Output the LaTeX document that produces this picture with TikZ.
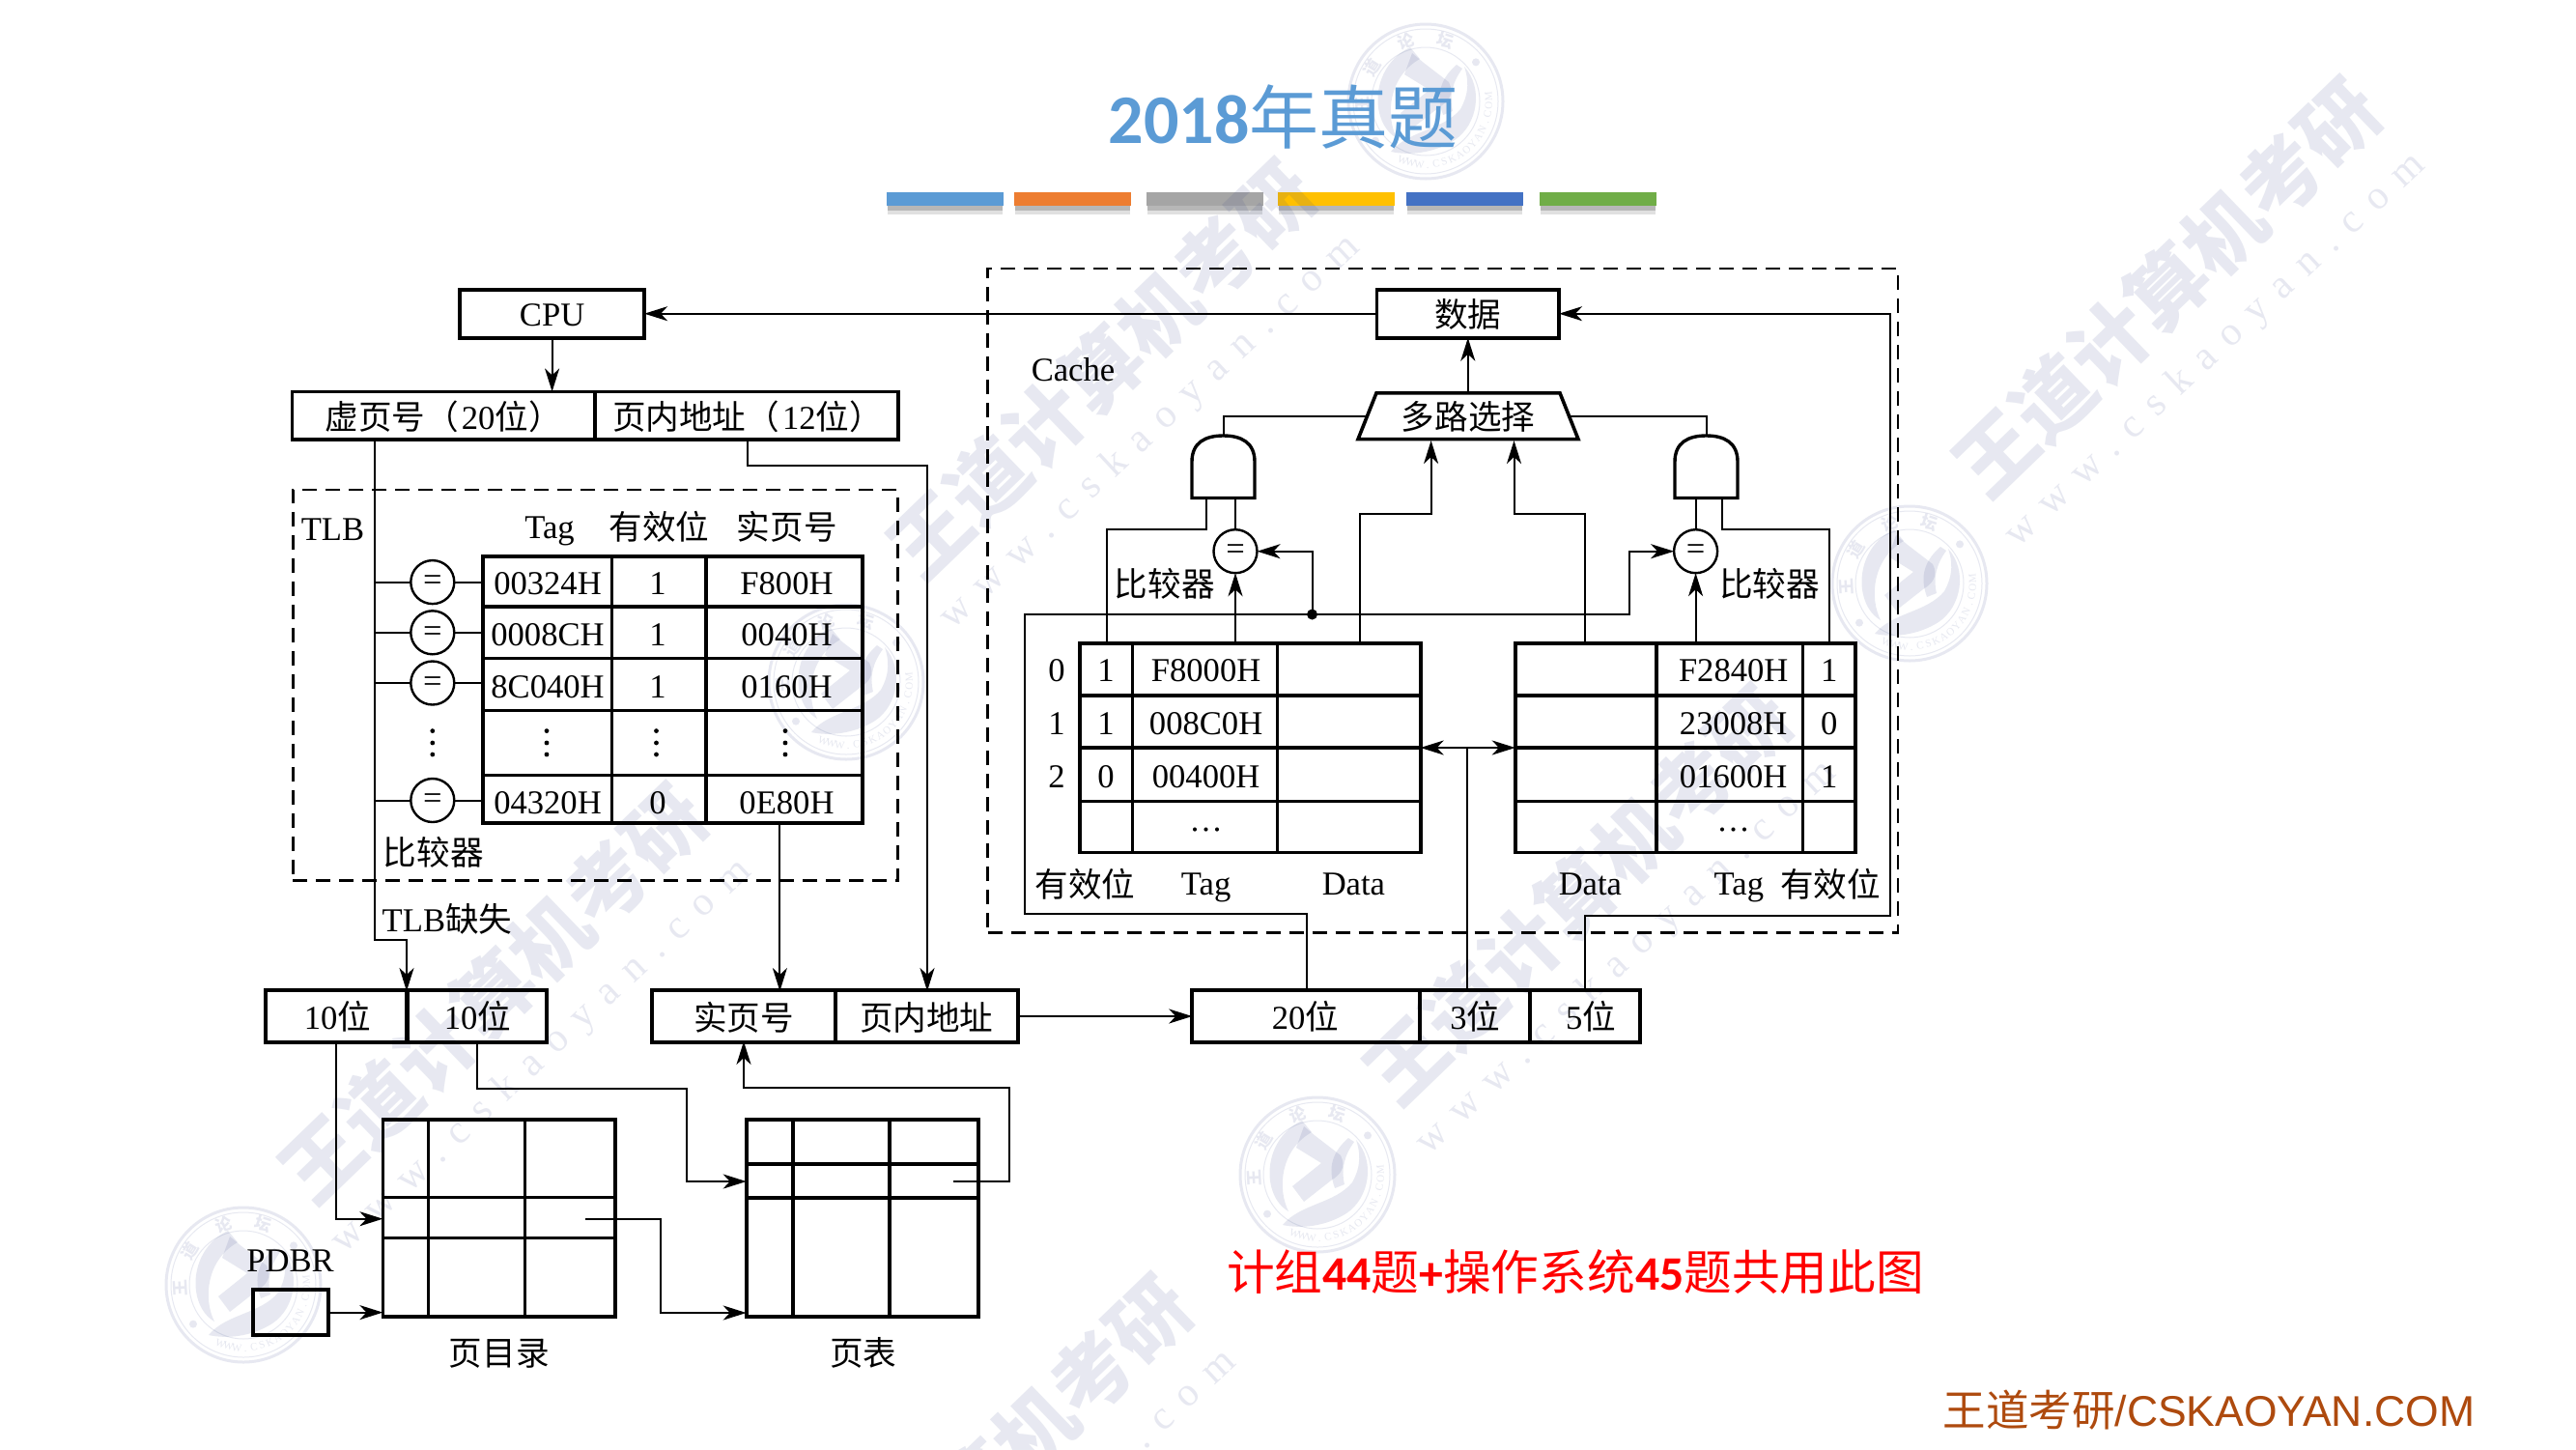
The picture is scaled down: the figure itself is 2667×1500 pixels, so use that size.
\documentclass[tikz,border=0pt]{standalone}
\usepackage{fontspec}
\usetikzlibrary{arrows.meta,shapes.geometric,calc}
\setmainfont{Liberation Serif}
\newfontfamily\cjk{Noto Sans CJK SC}
\newfontfamily\cali{Carlito}
\newfontfamily\arialf{Liberation Sans}
\newfontfamily\wmfont[LetterSpace=38]{Liberation Serif}
\newcommand{\zh}[1]{{\cjk #1}}
\definecolor{wmink}{HTML}{3B4A8C}
\definecolor{titleblue}{HTML}{5B9BD5}
\definecolor{brandbrown}{HTML}{AE4A0E}
\tikzset{
  x=1pt,y=-1pt,
  every node/.style={font=\fontsize{34.6}{36}\selectfont,inner sep=0pt,outer sep=0pt,text height=25.5pt,text depth=0pt},
  zt/.style={text height=28pt},
  zm/.style={text height=26.5pt},
  box/.style={draw=black,line width=3.8pt,rectangle,inner sep=0pt,outer sep=0pt},
  gridline/.style={line width=3.4pt},
  wire/.style={line width=2pt},
  arrowwire/.style={line width=2pt,-{Stealth[length=24pt,width=15pt,inset=7pt]}},
  dblwire/.style={line width=2pt,{Stealth[length=24pt,width=15pt,inset=7pt]}-{Stealth[length=24pt,width=15pt,inset=7pt]}},
  dashbox/.style={line width=2.4pt,dash pattern=on 15pt off 9pt},
  cmp/.style={draw=black,line width=2.4pt,circle,minimum size=45pt,fill=white,text height=18.4pt},
  gatebody/.style={draw=black,line width=3.4pt,fill=white},
  wmtext/.style={font=\fontsize{82}{86}\selectfont\cjk\bfseries,rotate=44,text height=62pt},
  wmurl/.style={font=\fontsize{42}{44}\selectfont\wmfont,rotate=43,text height=20pt},
}
\newcommand{\wdmark}[2]{%
  \node[wmtext] (wm#1#2a) at (#1,#2) {王道计算机考研};
  \node[wmurl] (wm#1#2b) at ($(#1,#2)+(51,65)$) {www.cskaoyan.com};
}
\newcommand{\wdstamp}[2]{%
  \begin{scope}[shift={(#1,#2)},x=1pt,y=1pt]
    \draw[line width=3pt] (0,0) circle (80);
    \draw[line width=1pt] (0,0) circle (75);
    \draw[line width=1pt] (0,0) circle (56);
    \foreach \ch/\ang in {王/183,道/148,论/108,坛/72}
      \node[font=\fontsize{17}{18}\selectfont\cjk\bfseries,rotate=\ang-90,text height=13pt] at (\ang:66) {\ch};
    \fill (38:66) circle (4);
    \fill (218:66) circle (4);
    \foreach \ch [count=\i] in {W,W,W,.,C,S,K,A,O,Y,A,N,.,C,O,M}
      \node[font=\fontsize{11}{12}\selectfont,rotate=-119+7.7*\i+90,text height=8pt] at (-119+7.7*\i:65) {\ch};
    % left crescent
    \fill (-16,56) .. controls (-58,36) and (-58,-22) .. (-30,-38) .. controls (-42,-14) and (-38,26) .. (-6,44) -- cycle;
    % bottom bowl
    \fill (-36,-52) .. controls (-18,-30) and (18,-30) .. (36,-8) .. controls (46,10) and (44,24) .. (40,36) .. controls (60,14) and (54,-24) .. (30,-40) .. controls (8,-54) and (-18,-56) .. (-36,-52) -- cycle;
    % central stroke
    \fill (-14,50) -- (-2,40) -- (24,20) .. controls (30,8) and (24,0) .. (14,-6) -- (-14,-28) -- (-26,-12) -- (4,12) -- (-22,28) -- cycle;
    \fill (32,38) .. controls (16,24) and (10,8) .. (18,-14) -- (28,-10) .. controls (24,6) and (28,20) .. (38,34) -- cycle;
  \end{scope}%
}
\begin{document}
\begin{tikzpicture}
\useasboundingbox (0,0) rectangle (2667,1500);
\clip (0,0) rectangle (2667,1500);
\fill[white] (0,0) rectangle (2667,1500);

% title bars with shadow
\foreach \xa/\xb/\cc in {917.9/1039/5B9BD5,1049.9/1171/ED7D31,1187/1308.2/A5A5A5,1323.2/1444.3/FFC000,1456.4/1577/4472C4,1594/1715.3/70AD47}{
  \definecolor{barcol}{HTML}{\cc}
  \fill[black,opacity=.12] (\xa+1,213) rectangle (\xb-1,222);
  \fill[black,opacity=.18] (\xa+1,213) rectangle (\xb-1,218);
  \fill[barcol] (\xa,199) rectangle (\xb,213);
}

% watermarks
\begin{scope}[opacity=.12,color=wmink,text=wmink,fill=wmink,draw=wmink]
  \wdmark{2243}{298}
  \wdmark{1140}{383}
  \wdmark{510}{1029}
  \wdmark{1633}{927}
  \wdmark{1012}{1537}
  \wdstamp{1476}{105}
  \wdstamp{1977}{604}
  \wdstamp{876}{706}
  \wdstamp{1364}{1216}
  \wdstamp{252}{1330}
\end{scope}

% title and notes
\node[text height=54pt] (title) at (1328.5,121) {\fontsize{72}{74}\selectfont\textcolor{titleblue}{{\cali\bfseries 2018}\zh{年真题}}};
\node[text height=38pt] (note) at (1631,1316) {\fontsize{49.7}{52}\selectfont\textcolor{red}{\zh{计组}{\cali\bfseries 44}\zh{题}{\cali\bfseries +}\zh{操作系统}{\cali\bfseries 45}\zh{题共用此图}}};
\node[text height=34pt] (brand) at (2287,1459) {\fontsize{44.5}{46}\selectfont\textcolor{brandbrown}{\zh{王道考研}{\arialf /CSKAOYAN.COM}}};

% dashed containers
\node[dashbox,draw=black,minimum width=626.3pt,minimum height=404.5pt] (tlbbox) at (616.45,709.25) {};
\node[dashbox,draw=black,minimum width=942.4pt,minimum height=687.8pt] (cachebox) at (1493.8,621.7) {};
\node (tlblabel) at (344.5,547) {TLB};
\node (cachelabel) at (1111,381.6) {Cache};

% top boxes
\node[box,minimum width=191pt,minimum height=50pt] (cpu) at (571.6,324.7) {CPU};
\node[box,minimum width=313.6pt,minimum height=49.5pt] (vpn) at (459.2,430.2) {};
\node[box,minimum width=314pt,minimum height=49.5pt] (off) at (773,430.2) {};
\node[zm] (vpnt) at (459,431) {\zh{虚页号（}\hspace{3pt}20\zh{位）}};
\node[zm] (offt) at (774,431) {\zh{页内地址（}\hspace{3pt}12\zh{位）}};

% TLB table
\node[box,minimum width=392.5pt,minimum height=276pt] (tlb) at (696.6,713.8) {};
\draw[gridline] (633.4,0 |- tlb.north) -- (633.4,0 |- tlb.south);
\draw[gridline] (730.9,0 |- tlb.north) -- (730.9,0 |- tlb.south);
\foreach \yy in {628,681.6,735.6,802.6} \draw[gridline] (tlb.west |- 0,\yy) -- (tlb.east |- 0,\yy);
\node (hTag) at (569,544.5) {Tag};
\node[zt] (hValid) at (682.4,544.5) {\zh{有效位}};
\node[zt] (hPage) at (814.7,544.5) {\zh{实页号}};
\foreach \nm/\yy/\ta/\tb/\tc in {a/603/00324H/1/F800H,b/655.5/0008CH/1/0040H,c/709.5/8C040H/1/0160H,e/829.5/04320H/0/0E80H}{
  \node (tt\nm) at (567,\yy) {\ta};
  \node (tv\nm) at (681,\yy) {\tb};
  \node (tp\nm) at (814.5,\yy) {\tc};
}
\foreach \xx in {447.8,566,679.5,813} \foreach \yy in {756.6,769,781} \fill (\xx,\yy) circle (2.4);
\foreach \nm/\yy in {a/602.6,b/654.8,c/707,e/828.5}{
  \node[cmp] (cmp\nm) at (447.8,\yy) {=};
  \draw[wire] (388.1,\yy) -- (cmp\nm.west);
  \draw[wire] (cmp\nm.east) -- (tlb.west |- cmp\nm);
}
\node[zt] (tlbcmp) at (448.7,881.6) {\zh{比较器}};
\node[zm] (tlbmiss) at (463,951) {TLB\zh{缺失}};

% lower left boxes
\node[box,minimum width=146.6pt,minimum height=53.5pt] (la) at (348.5,1052) {};
\node[box,minimum width=145pt,minimum height=53.5pt] (lb) at (493.3,1052) {};
\node[zm] (lat) at (349.5,1052.7) {10\zh{位}};
\node[zm] (lbt) at (494.5,1052.7) {10\zh{位}};
\node[box,minimum width=189.5pt,minimum height=53.5pt,zt] (rp) at (769.9,1052) {\zh{实页号}};
\node[box,minimum width=189.5pt,minimum height=53.5pt,zt] (po) at (959.2,1052) {\zh{页内地址}};
\node[box,minimum width=235.5pt,minimum height=53.5pt] (ca) at (1352,1052) {};
\node[box,minimum width=115pt,minimum height=53.5pt] (cb) at (1527,1052) {};
\node[box,minimum width=113.5pt,minimum height=53.5pt] (cc) at (1641,1052) {};
\node[zm] (cat) at (1351.5,1052.7) {20\zh{位}};
\node[zm] (cbt) at (1527.4,1052.7) {3\zh{位}};
\node[zm] (cct) at (1647,1052.7) {5\zh{位}};

% page directory, page table
\node[box,minimum width=240.6pt,minimum height=204pt] (pd) at (516.7,1261.3) {};
\draw[gridline] (443.4,0 |- pd.north) -- (443.4,0 |- pd.south);
\draw[gridline] (543.5,0 |- pd.north) -- (543.5,0 |- pd.south);
\foreach \yy in {1239.7,1281.7} \draw[gridline] (pd.west |- 0,\yy) -- (pd.east |- 0,\yy);
\node[box,minimum width=240.6pt,minimum height=204pt] (pt) at (893,1261.3) {};
\draw[gridline] (820.9,0 |- pt.north) -- (820.9,0 |- pt.south);
\draw[gridline] (921,0 |- pt.north) -- (921,0 |- pt.south);
\foreach \yy in {1205,1240} \draw[gridline] (pt.west |- 0,\yy) -- (pt.east |- 0,\yy);
\node[box,minimum width=78pt,minimum height=47.5pt] (pdbr) at (300.8,1358.6) {};
\node (pdbrt) at (300.5,1304) {PDBR};
\node[zt] (pdt) at (516.7,1399.3) {\zh{页目录}};
\node[zt] (ptt) at (893.6,1399.3) {\zh{页表}};

% cache right-hand part
\node[box,minimum width=188.5pt,minimum height=50pt,zt] (data) at (1519.8,324.7) {\zh{数据}};
\draw[line width=3.6pt,line join=miter] (1425,406.8) -- (1615,406.8) -- (1634,454.6) -- (1406,454.6) -- cycle;
\node[zt,minimum width=208pt,minimum height=47.5pt] (mux) at (1520,430.7) {\zh{多路选择}};
\node[box,minimum width=352.5pt,minimum height=216.5pt] (ct) at (1294.4,774.15) {};
\node[box,minimum width=352pt,minimum height=216.5pt] (cr) at (1744.8,774.15) {};
\foreach \xx in {1172.2,1322.5} \draw[gridline] (\xx,0 |- ct.north) -- (\xx,0 |- ct.south);
\foreach \xx in {1715,1866.7} \draw[gridline] (\xx,0 |- cr.north) -- (\xx,0 |- cr.south);
\foreach \yy in {720,774,829.2}{
  \draw[gridline] (ct.west |- 0,\yy) -- (ct.east |- 0,\yy);
  \draw[gridline] (cr.west |- 0,\yy) -- (cr.east |- 0,\yy);
}
\foreach \nm/\yy/\ia/\va/\ta/\tb/\vb in {a/692.4/0/1/F8000H/F2840H/1,b/747.5/1/1/008C0H/23008H/0,c/802.6/2/0/00400H/01600H/1}{
  \node (idx\nm) at (1094,\yy) {\ia};
  \node (lv\nm) at (1145,\yy) {\va};
  \node (lt\nm) at (1248.6,\yy) {\ta};
  \node (rt\nm) at (1794.7,\yy) {\tb};
  \node (rv\nm) at (1893.8,\yy) {\vb};
}
\node (ldots) at (1248.6,857.7) {···};
\node (rdots) at (1794.7,857.7) {···};
\node[zt] (lb1) at (1123.6,914) {\zh{有效位}};
\node (lb2) at (1248.6,914) {Tag};
\node (lb3) at (1401.4,914) {Data};
\node (rb1) at (1646.4,914) {Data};
\node (rb2) at (1800.4,914) {Tag};
\node[zt] (rb3) at (1895,914) {\zh{有效位}};
\node[zt] (cmpl) at (1205.7,603) {\zh{比较器}};
\node[zt] (cmpr) at (1832,603) {\zh{比较器}};
\node[cmp] (c5) at (1279,570.7) {=};
\node[cmp] (c6) at (1755.6,570.7) {=};

% AND gates
\node[minimum width=65pt,minimum height=66.6pt] (gl) at (1266.5,483.3) {};
\node[minimum width=65pt,minimum height=66.6pt] (gr) at (1766.5,483.3) {};
\draw[gatebody] (1234,515.5) -- (1234,478) .. controls (1234,458) and (1248,451) .. (1266.5,451) .. controls (1285,451) and (1299,458) .. (1299,478) -- (1299,515.5) -- cycle;
\draw[gatebody] (1734,515.5) -- (1734,478) .. controls (1734,458) and (1748,451) .. (1766.5,451) .. controls (1785,451) and (1799,458) .. (1799,478) -- (1799,515.5) -- cycle;

% named bend points
\coordinate (busL) at (1060.5,636);
\coordinate (busB) at (1060.5,945.9);
\coordinate (junct) at (1358.5,636);
\coordinate (busR) at (1687.4,636);
\coordinate (midLine) at (1518.8,774);
\coordinate (outerTop) at (1957,324.7);
\coordinate (outerBot) at (1957,948);

% connectors : top
\draw[arrowwire] (data.west) -- (cpu.east);
\draw[arrowwire] (cpu.south) -- (cpu.south |- vpn.north);
\draw[arrowwire] (mux.north -| data) -- (data.south);
% address wires
\draw[arrowwire] (388.1,454) -- (388.1,973) -- (421,973) -- (421,1026);
\draw[arrowwire] (773.5,454) -- (773.5,482) -- (960,482) -- (960,1026);
\draw[arrowwire] (807.4,851) -- (807.4,1026);
\draw[arrowwire] (po.east) -- (ca.west);
% page-walk wires
\draw[arrowwire] (347.7,1078) -- (347.7,1261.7) -- (pd.west |- 0,1261.7);
\draw[arrowwire] (494.4,1078) -- (494.4,1126.7) -- (711.2,1126.7) -- (711.2,1223) -- (pt.west |- 0,1223);
\draw[arrowwire] (606,1261.7) -- (684.4,1261.7) -- (684.4,1359) -- (pt.west |- 0,1359);
\draw[arrowwire] (987.4,1222.7) -- (1044.8,1222.7) -- (1044.8,1125.7) -- (770,1125.7) -- (770,1078);
\draw[arrowwire] (pdbr.east) -- (pd.west |- pdbr);
% cache wires
\draw[wire] (1266.5,451) -- (1266.5,430.7) -- (mux.west);
\draw[wire] (1766.5,451) -- (1766.5,430.7) -- (mux.east);
\draw[wire] (1248.6,516.6) -- (1248.6,547.8) -- (1146.4,547.8) -- (1146.4,664.9);
\draw[wire] (1279,516.6) -- (c5.north);
\draw[wire] (1755.6,516.6) -- (c6.north);
\draw[wire] (1783.4,516.6) -- (1783.4,547.8) -- (1893.8,547.8) -- (1893.8,664.9);
\draw[arrowwire] (1279,0 |- ct.north) -- (c5.south);
\draw[arrowwire] (1755.6,0 |- cr.north) -- (c6.south);
\draw[arrowwire] (1352.8,1026) -- (1352.8,945.9) -- (busB) -- (busL) -- (busR) -- (1687.4,570.7) -- (c6.west);
\draw[arrowwire] (junct) -- (junct |- c5) -- (c5.east);
\fill (junct) circle (5.5);
\draw[arrowwire] (1408.4,0 |- ct.north) -- (1408.4,531.7) -- (1481.6,531.7) -- (1481.6,456);
\draw[arrowwire] (1641.3,0 |- cr.north) -- (1641.3,531.7) -- (1567.5,531.7) -- (1567.5,456);
\draw[dblwire] (ct.east |- midLine) -- (cr.west |- midLine);
\draw[wire] (midLine) -- (1518.8,1026);
\draw[arrowwire] (1641.3,1026) -- (1641.3,948) -- (outerBot) -- (outerTop) -- (data.east);
\end{tikzpicture}
\end{document}
